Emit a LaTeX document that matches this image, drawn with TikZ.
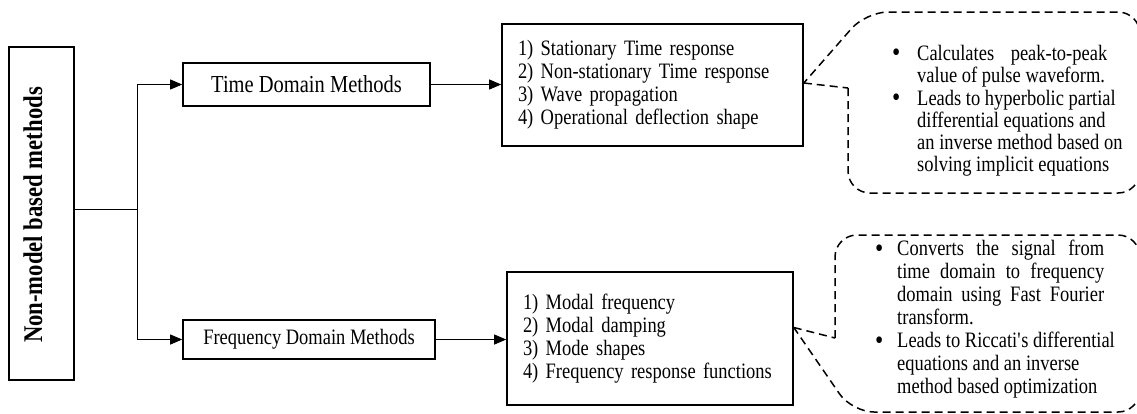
\documentclass[tikz,border=0pt]{standalone}
\usepackage{fontspec}
\setmainfont{Liberation Serif}[FakeStretch=0.84]
\usetikzlibrary{arrows.meta}
\newcommand{\itembullet}[1]{\makebox[#1][l]{\raisebox{-1.5pt}{\fontsize{28}{28}\selectfont\textbullet}}}
\begin{document}
\begin{tikzpicture}[x=1pt,y=-1pt,
  box/.style={draw, line width=1.6pt, inner sep=0pt},
  link/.style={line width=0.9pt, -{Triangle[length=12pt,width=10pt]}},
  plainlink/.style={line width=0.9pt},
  callout/.style={line width=1.5pt, dash pattern=on 8pt off 5pt},
  listfont/.style={font=\fontsize{22}{23}\selectfont},
  notefontA/.style={font=\fontsize{22}{22.3}\selectfont},
  notefontB/.style={font=\fontsize{22}{23}\selectfont},
]
\useasboundingbox (0,0) rectangle (1137,413);

% root box with its vertical title
\node[box, minimum width=65pt, minimum height=333pt] (nm) at (41.5,213.5) {};
\node[rotate=90, font=\bfseries\fontsize{27}{30}\selectfont] (nmtext) at (33,215) {Non-model based methods};

% the two method families
\node[box, minimum width=247pt, minimum height=43pt, font=\fontsize{24.4}{28}\selectfont] (td) at (306.5,84.5) {Time Domain Methods};
\node[box, minimum width=252pt, minimum height=39pt, font=\fontsize{22}{26}\selectfont] (fd) at (309,339.5) {Frequency Domain Methods};

% lists of quantities
\node[box, minimum width=301pt, minimum height=122pt, text width=269pt, align=left, inner xsep=16pt, listfont] (tl) at (652.5,85)
  {1) Stationary Time response\\2) Non-stationary Time response\\3) Wave propagation\\4) Operational deflection shape};
\node[box, minimum width=286pt, minimum height=133pt, text width=254pt, align=left, inner xsep=16pt, listfont] (fl) at (650,338.5)
  {1) Modal frequency\\2) Modal damping\\3) Mode shapes\\4) Frequency response functions};

% connectors
\coordinate (split) at (137,209);
\draw[plainlink] (nm.east |- split) -- (split);
\draw[link] (split) |- (td.west);
\draw[link] (split) |- (fd.west);
\draw[link] (td.east) -- (td.east -| tl.west);
\draw[link] (fd.east) -- (fd.east -| fl.west);

% dashed callouts
\coordinate (tipA) at ([yshift=2pt]tl.east);
\draw[callout, rounded corners=22pt] (848,88) -- (848,193) -- (1140,193) -- (1140,12) -- (866,12) -- (tipA);
\draw[callout] (tipA) -- (848,88);

\coordinate (tipB) at ([yshift=11pt]fl.east);
\draw[callout, rounded corners=22pt] (835,338) -- (835,235) -- (1140,235) -- (1140,412) -- (852,412) -- (tipB);
\draw[callout] (tipB) -- (835,338);

% callout texts
\node[anchor=north west, inner sep=0pt, align=left, notefontA] (noteA) at (892,45) {%
\itembullet{25pt}\makebox[190pt][s]{Calculates peak-to-peak}\\
\hspace*{25pt}value of pulse waveform.\\
\itembullet{25pt}Leads to hyperbolic partial\\
\hspace*{25pt}differential equations and\\
\hspace*{25pt}an inverse method based on\\
\hspace*{25pt}solving implicit equations};

\node[anchor=north west, inner sep=0pt, align=left, notefontB] (noteB) at (875,240) {%
\itembullet{22pt}\makebox[207pt][s]{Converts the signal from}\\
\hspace*{22pt}\makebox[207pt][s]{time domain to frequency}\\
\hspace*{22pt}\makebox[207pt][s]{domain using Fast Fourier}\\
\hspace*{22pt}transform.\\
\itembullet{22pt}Leads to Riccati\textquotesingle s differential\\
\hspace*{22pt}equations and an inverse\\
\hspace*{22pt}method based optimization};
\end{tikzpicture}
\end{document}
